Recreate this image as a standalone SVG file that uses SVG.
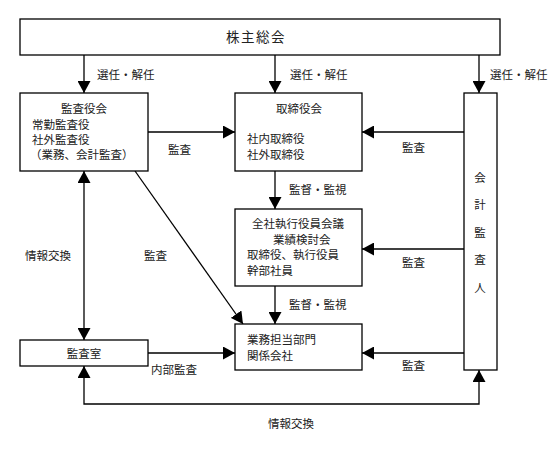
<svg xmlns="http://www.w3.org/2000/svg" width="559" height="450" viewBox="0 0 559 450">
<style>
.box{fill:#fff;stroke:#000;stroke-width:1.3}
.ln{fill:none;stroke:#000;stroke-width:1.3}
text{font-family:"Liberation Serif","Noto Sans CJK JP",serif;font-size:11.5px;fill:#222}
.c{text-anchor:middle}
</style>
<defs>
<marker id="ah" markerUnits="userSpaceOnUse" markerWidth="13" markerHeight="13" refX="12" refY="6.5" orient="auto-start-reverse" viewBox="0 0 13 13">
<path d="M0,0 L12,6.5 L0,13 z" fill="#000"/>
</marker>
</defs>
<rect width="559" height="450" fill="#fff"/>
<g id="connectors">
<line class="ln" x1="84" y1="55" x2="84" y2="93" marker-end="url(#ah)"/>
<line class="ln" x1="275" y1="55" x2="275" y2="93" marker-end="url(#ah)"/>
<line class="ln" x1="479" y1="55" x2="479" y2="93" marker-end="url(#ah)"/>
<line class="ln" x1="148" y1="132" x2="235" y2="132" marker-end="url(#ah)"/>
<line class="ln" x1="464" y1="132" x2="362" y2="132" marker-end="url(#ah)"/>
<line class="ln" x1="275" y1="171" x2="275" y2="209" marker-end="url(#ah)"/>
<line class="ln" x1="464" y1="249" x2="362" y2="249" marker-end="url(#ah)"/>
<line class="ln" x1="275" y1="286" x2="275" y2="324" marker-end="url(#ah)"/>
<line class="ln" x1="464" y1="353" x2="362" y2="353" marker-end="url(#ah)"/>
<line class="ln" x1="148" y1="353" x2="235" y2="353" marker-end="url(#ah)"/>
<line class="ln" x1="84" y1="171" x2="84" y2="340" marker-start="url(#ah)" marker-end="url(#ah)"/>
<line class="ln" x1="135" y1="171" x2="243" y2="324" marker-end="url(#ah)"/>
<polyline class="ln" points="84,366 84,404 479,404 479,370" marker-start="url(#ah)" marker-end="url(#ah)"/>
<text x="97" y="79">選任・解任</text>
<text x="290" y="79">選任・解任</text>
<text x="490" y="79">選任・解任</text>
<text x="168" y="154">監査</text>
<text x="402" y="152">監査</text>
<text x="289" y="194">監督・監視</text>
<text x="402" y="267">監査</text>
<text x="289" y="309">監督・監視</text>
<text x="402" y="370">監査</text>
<text x="151" y="374">内部監査</text>
<text x="25" y="260">情報交換</text>
<text x="144" y="260">監査</text>
<text x="268" y="428">情報交換</text>
</g>
<g id="shareholders">
<rect class="box" x="20" y="19" width="480" height="36"/>
<text class="c" x="256" y="42" style="font-size:13.5px;letter-spacing:1.5px">株主総会</text>
</g>
<g id="kansayakukai">
<rect class="box" x="20" y="93" width="128" height="78"/>
<text class="c" x="84" y="113">監査役会</text>
<text x="32" y="129">常勤監査役</text>
<text x="32" y="144">社外監査役</text>
<text x="30" y="159">（業務、会計監査）</text>
</g>
<g id="torishimariyakukai">
<rect class="box" x="235" y="93" width="127" height="78"/>
<text x="276" y="113">取締役会</text>
<text x="247" y="143">社内取締役</text>
<text x="247" y="159">社外取締役</text>
</g>
<g id="kaikeikansanin">
<rect class="box" x="464" y="93" width="33" height="277"/>
<text class="c" x="480" y="182">会</text>
<text class="c" x="480" y="209">計</text>
<text class="c" x="480" y="237">監</text>
<text class="c" x="480" y="264">査</text>
<text class="c" x="480" y="292">人</text>
</g>
<g id="zensha">
<rect class="box" x="235" y="209" width="127" height="77"/>
<text x="252" y="228">全社執行役員会議</text>
<text x="273" y="244">業績検討会</text>
<text x="247" y="259">取締役、執行役員</text>
<text x="247" y="275">幹部社員</text>
</g>
<g id="gyomu">
<rect class="box" x="235" y="324" width="127" height="46"/>
<text x="247" y="344">業務担当部門</text>
<text x="247" y="360">関係会社</text>
</g>
<g id="kansashitsu">
<rect class="box" x="20" y="340" width="128" height="26"/>
<text class="c" x="84" y="358">監査室</text>
</g>
</svg>
